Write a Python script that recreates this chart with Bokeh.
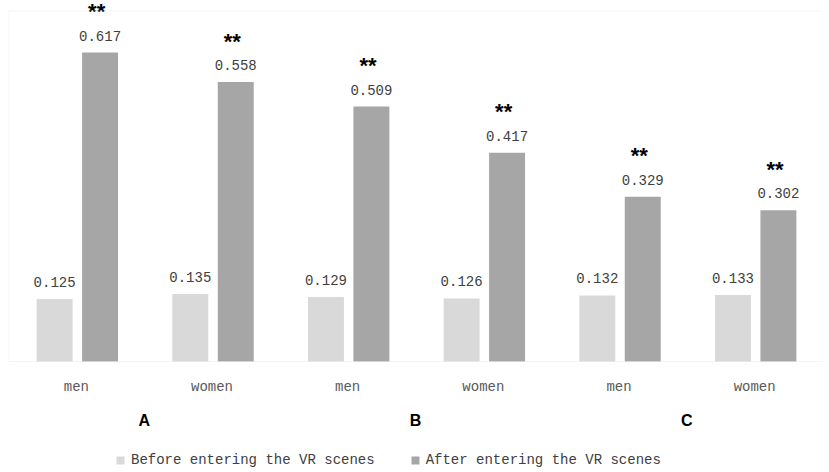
from bokeh.plotting import figure
from bokeh.models import FactorRange, Range1d, ColumnDataSource, Legend, LegendItem, BoxAnnotation
from bokeh.transform import dodge
from bokeh.core.properties import value
from bokeh.embed import file_html
from bokeh.resources import INLINE

panels = ["A", "A", "B", "B", "C", "C"]
sexes = ["men", "women", "men", "women", "men", "women"]
before = [0.125, 0.135, 0.129, 0.126, 0.132, 0.133]
after = [0.617, 0.558, 0.509, 0.417, 0.329, 0.302]
stars = ["**", "**", "**", "**", "**", "**"]
groups = ["A", "B", "C"]
series_names = ["Before entering the VR scenes", "After entering the VR scenes"]

factors = list(zip(panels, sexes))
src = ColumnDataSource(dict(
    x=factors, sex=sexes, zero=[0] * len(factors),
    before=before, after=after,
    before_lbl=["%.3f" % v for v in before],
    after_lbl=["%.3f" % v for v in after],
    stars=stars,
))
first_of_group = [next(f for f in factors if f[0] == g) for g in groups]
gsrc = ColumnDataSource(dict(x=first_of_group, name=groups, zero=[0] * len(groups)))

LIGHT = "#d9d9d9"
DARK = "#a6a6a6"
Y_TOP = 0.70
PX_PER_UNIT = 500.8
FRAME_H = 470
ZERO_FROM_TOP = 361

xr = FactorRange(*factors, factor_padding=0, group_padding=0, subgroup_padding=0, range_padding=0)
yr = Range1d(-(FRAME_H - ZERO_FROM_TOP) / PX_PER_UNIT, ZERO_FROM_TOP / PX_PER_UNIT)
p = figure(frame_width=814, frame_height=FRAME_H, x_range=xr, y_range=yr,
           output_backend="svg", toolbar_location=None,
           min_border_left=8, min_border_right=4, min_border_top=0, min_border_bottom=0)
p.outline_line_color = None
p.xgrid.visible = False
p.ygrid.visible = False
p.xaxis.visible = False
p.yaxis.visible = False

p.add_layout(BoxAnnotation(bottom=0, top=Y_TOP, fill_alpha=0, line_color="#d9d9d9", line_width=1))

r1 = p.vbar(x=dodge("x", -0.16, range=p.x_range), top="before", width=0.265, source=src,
            fill_color=LIGHT, line_color=None)
r2 = p.vbar(x=dodge("x", 0.175, range=p.x_range), top="after", width=0.265, source=src,
            fill_color=DARK, line_color=None)

mono = value("Liberation Mono")
p.text(x=dodge("x", -0.16, range=p.x_range), y="before", text="before_lbl", source=src,
       text_align="center", text_baseline="middle", y_offset=-17,
       text_font=mono, text_font_size="14px", text_color="#404040")
p.text(x=dodge("x", 0.175, range=p.x_range), y="after", text="after_lbl", source=src,
       text_align="center", text_baseline="middle", y_offset=-17,
       text_font=mono, text_font_size="14px", text_color="#404040")
p.text(x=dodge("x", 0.15, range=p.x_range), y="after", text="stars", source=src,
       text_align="center", text_baseline="middle", y_offset=-41,
       text_font=value("Liberation Sans"), text_font_style="bold",
       text_font_size="22px", text_color="#000000")

# category labels (men / women) and panel labels (A / B / C)
p.text(x="x", y="zero", text="sex", source=src,
       text_align="center", text_baseline="middle", y_offset=25,
       text_font=mono, text_font_size="14px", text_color="#595959")
p.text(x=dodge("x", 0.5, range=p.x_range), y="zero", text="name", source=gsrc,
       text_align="center", text_baseline="middle", y_offset=59,
       text_font=value("Liberation Sans"), text_font_style="bold",
       text_font_size="16px", text_color="#000000")

legend = Legend(items=[LegendItem(label=series_names[0], renderers=[r1]),
                       LegendItem(label=series_names[1], renderers=[r2])],
                orientation="horizontal", location=(107, 0),
                label_text_font="Liberation Mono", label_text_font_size="14px",
                label_text_color="#404040", glyph_width=10, glyph_height=10,
                label_height=20, label_standoff=6, spacing=35, padding=0, margin=0,
                border_line_color=None, background_fill_alpha=0)
p.add_layout(legend)

open("out.html", "w").write(file_html(p, INLINE))
